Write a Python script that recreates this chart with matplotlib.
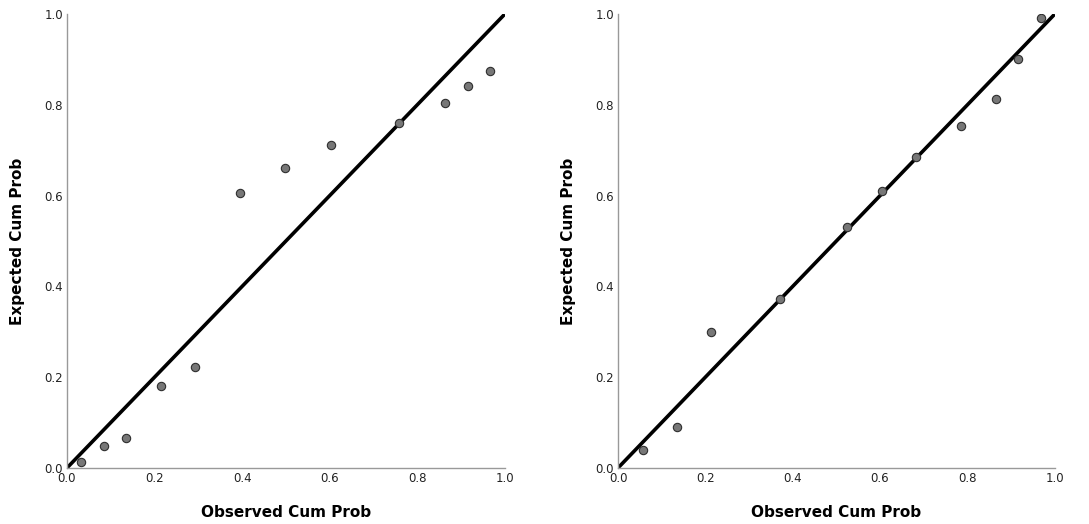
import matplotlib.pyplot as plt

# observed vs expected cumulative probabilities
obs_left = [0.032, 0.084, 0.135, 0.214, 0.292, 0.396, 0.499, 0.603, 0.759, 0.864, 0.916, 0.967]
exp_left = [0.013, 0.049, 0.066, 0.181, 0.222, 0.605, 0.660, 0.712, 0.760, 0.804, 0.842, 0.875]

obs_right = [0.057, 0.135, 0.214, 0.370, 0.525, 0.605, 0.682, 0.786, 0.865, 0.917, 0.968]
exp_right = [0.040, 0.091, 0.299, 0.372, 0.531, 0.610, 0.685, 0.754, 0.812, 0.902, 0.991]

ticks = [0.0, 0.2, 0.4, 0.6, 0.8, 1.0]
tick_labels = ["0.0", "0.2", "0.4", "0.6", "0.8", "1.0"]

fig = plt.figure(figsize=(10.89, 5.24), dpi=100)
ax1 = fig.add_axes([0.0615, 0.107, 0.402, 0.866])
ax2 = fig.add_axes([0.5675, 0.107, 0.401, 0.866])

for ax, xs, ys in [(ax1, obs_left, exp_left), (ax2, obs_right, exp_right)]:
    ax.plot([0, 1], [0, 1], color='black', lw=2.6, zorder=2, solid_capstyle='butt')
    ax.scatter(xs, ys, s=36, facecolor='#777777', edgecolor='#2e2e2e', linewidth=0.8, zorder=3)
    ax.set_xlim(0, 1)
    ax.set_ylim(0, 1)
    ax.set_xticks(ticks)
    ax.set_xticklabels(tick_labels)
    ax.set_yticks(ticks)
    ax.set_yticklabels(tick_labels)
    ax.tick_params(length=0, labelsize=8.5, pad=3, colors='#222222')
    for side in ['top', 'right']:
        ax.spines[side].set_visible(False)
    for side in ['left', 'bottom']:
        ax.spines[side].set_color('#999999')
        ax.spines[side].set_linewidth(1.0)
    ax.set_xlabel("Observed Cum Prob", fontsize=11, fontweight='bold', labelpad=14)
    ax.set_ylabel("Expected Cum Prob", fontsize=11, fontweight='bold', labelpad=14)

fig.savefig("out.png", dpi=100)
